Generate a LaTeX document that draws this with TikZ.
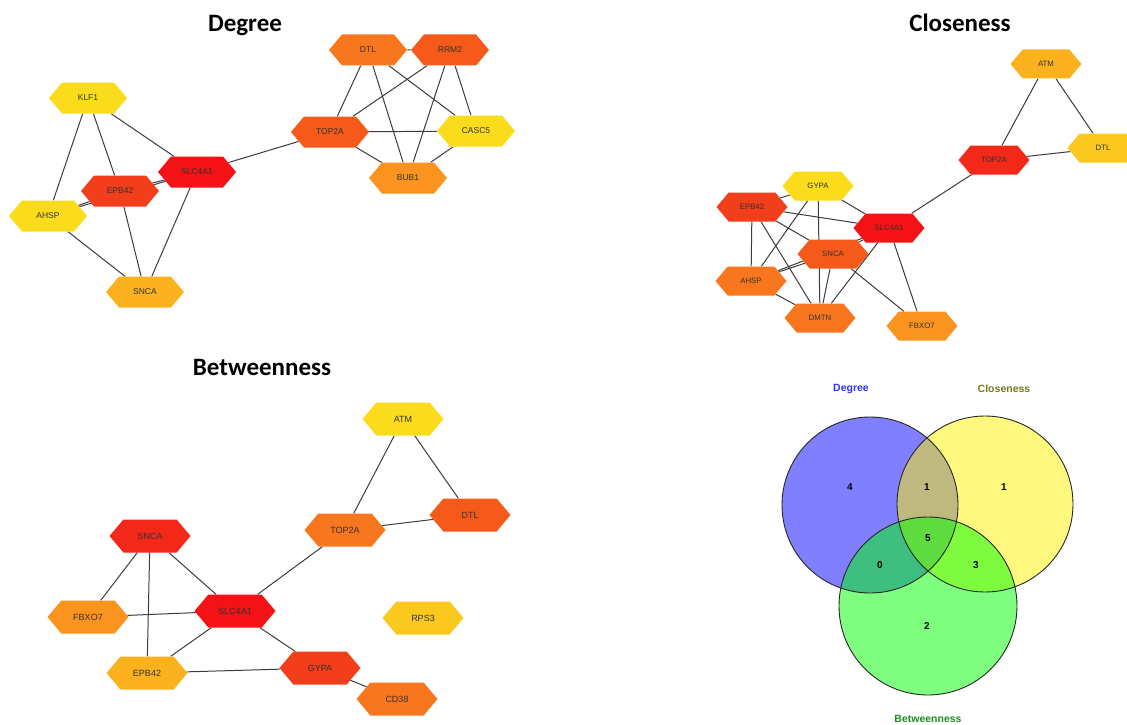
\documentclass[tikz,border=0pt]{standalone}
\usepackage{fontspec}
\setmainfont{Liberation Sans}
\newfontfamily\titlefont{Carlito}
\usetikzlibrary{shapes.symbols,backgrounds}

\definecolor{hexred}{RGB}{245,18,22}
\definecolor{hexscarlet}{RGB}{243,40,24}
\definecolor{hexredor}{RGB}{242,62,26}
\definecolor{hexor}{RGB}{245,90,26}
\definecolor{hexmid}{RGB}{248,118,30}
\definecolor{hexlight}{RGB}{250,148,30}
\definecolor{hexamber}{RGB}{251,178,30}
\definecolor{hexgold}{RGB}{251,200,30}
\definecolor{hexyellow}{RGB}{250,220,28}
\definecolor{linkgray}{RGB}{60,60,60}

\tikzset{
  hex/.style={shape=signal, signal to=east and west, signal pointer angle=100, inner sep=0pt, text=black!80},
  dhex/.style={hex, minimum width=78pt, minimum height=31pt, font=\fontsize{8.5}{9}\selectfont},
  chex/.style={hex, minimum width=71pt, minimum height=29pt, font=\fontsize{7.8}{9}\selectfont},
  bhex/.style={hex, minimum width=81pt, minimum height=33pt, font=\fontsize{9}{10}\selectfont},
  link/.style={-, draw=linkgray, line width=1pt},
  paneltitle/.style={anchor=base, font=\titlefont\bfseries\fontsize{25}{28}\selectfont},
  setlabel/.style={font=\bfseries\fontsize{10.5}{12}\selectfont},
  setcount/.style={font=\bfseries\fontsize{10}{12}\selectfont},
}

\begin{document}
\begin{tikzpicture}[x=1pt, y=-1pt]
\useasboundingbox (0,0) rectangle (1127,725);

% Degree
\node[paneltitle] (tdeg) at (245,32) {Degree};
\node[dhex, fill=hexyellow] (dKLF1) at (88,98) {KLF1};
\node[dhex, fill=hexredor] (dEPB42) at (120,191) {EPB42};
\node[dhex, fill=hexred] (dSLC4A1) at (197,172) {SLC4A1};
\node[dhex, fill=hexyellow] (dAHSP) at (48,216) {AHSP};
\node[dhex, fill=hexamber] (dSNCA) at (145,292) {SNCA};
\node[dhex, fill=hexor] (dTOP2A) at (330,132) {TOP2A};
\node[dhex, fill=hexmid] (dDTL) at (368,50) {DTL};
\node[dhex, fill=hexor] (dRRM2) at (450,50) {RRM2};
\node[dhex, fill=hexyellow] (dCASC5) at (476,131) {CASC5};
\node[dhex, fill=hexlight] (dBUB1) at (408,178) {BUB1};

% Closeness
\node[paneltitle] (tclo) at (960,32) {Closeness};
\node[chex, fill=hexamber] (cATM) at (1046,64) {ATM};
\node[chex, fill=hexgold] (cDTL) at (1103,148) {DTL};
\node[chex, fill=hexscarlet] (cTOP2A) at (994,160) {TOP2A};
\node[chex, fill=hexyellow] (cGYPA) at (818,186) {GYPA};
\node[chex, fill=hexredor] (cEPB42) at (752,207) {EPB42};
\node[chex, fill=hexred] (cSLC4A1) at (889,228) {SLC4A1};
\node[chex, fill=hexor] (cSNCA) at (833,254) {SNCA};
\node[chex, fill=hexmid] (cAHSP) at (751,281) {AHSP};
\node[chex, fill=hexmid] (cDMTN) at (820,318) {DMTN};
\node[chex, fill=hexlight] (cFBXO7) at (922,326) {FBXO7};

% Betweenness
\node[paneltitle] (tbet) at (262,375) {Betweenness};
\node[bhex, fill=hexyellow] (bATM) at (403,419) {ATM};
\node[bhex, fill=hexor] (bDTL) at (470,515) {DTL};
\node[bhex, fill=hexmid] (bTOP2A) at (345,530) {TOP2A};
\node[bhex, fill=hexscarlet] (bSNCA) at (150,536) {SNCA};
\node[bhex, fill=hexred] (bSLC4A1) at (235,611) {SLC4A1};
\node[bhex, fill=hexlight] (bFBXO7) at (88,617) {FBXO7};
\node[bhex, fill=hexgold] (bRPS3) at (423,618) {RPS3};
\node[bhex, fill=hexamber] (bEPB42) at (147,673) {EPB42};
\node[bhex, fill=hexredor] (bGYPA) at (320,668) {GYPA};
\node[bhex, fill=hexmid] (bCD38) at (397,699) {CD38};

\begin{pgfonlayer}{background}
\path[link] (dKLF1) edge (dAHSP);
\path[link] (dKLF1) edge (dEPB42);
\path[link] (dKLF1) edge (dSLC4A1);
\path[link] (dEPB42) edge (dSLC4A1);
\path[link] (dEPB42) edge (dAHSP);
\path[link] (dEPB42) edge (dSNCA);
\path[link] (dSLC4A1) edge (dAHSP);
\path[link] (dAHSP) edge (dSNCA);
\path[link] (dSLC4A1) edge (dSNCA);
\path[link] (dSLC4A1) edge (dTOP2A);
\path[link] (dTOP2A) edge (dDTL);
\path[link] (dTOP2A) edge (dRRM2);
\path[link] (dTOP2A) edge (dCASC5);
\path[link] (dTOP2A) edge (dBUB1);
\path[link] (dDTL) edge (dRRM2);
\path[link] (dDTL) edge (dBUB1);
\path[link] (dDTL) edge (dCASC5);
\path[link] (dRRM2) edge (dBUB1);
\path[link] (dRRM2) edge (dCASC5);
\path[link] (dCASC5) edge (dBUB1);

\path[link] (cATM) edge (cTOP2A);
\path[link] (cATM) edge (cDTL);
\path[link] (cTOP2A) edge (cDTL);
\path[link] (cTOP2A) edge (cSLC4A1);
\path[link] (cEPB42) edge (cGYPA);
\path[link] (cEPB42) edge (cSLC4A1);
\path[link] (cEPB42) edge (cSNCA);
\path[link] (cEPB42) edge (cAHSP);
\path[link] (cEPB42) edge (cDMTN);
\path[link] (cGYPA) edge (cSLC4A1);
\path[link] (cGYPA) edge (cAHSP);
\path[link] (cGYPA) edge (cDMTN);
\path[link] (cSLC4A1) edge (cSNCA);
\path[link] (cSLC4A1) edge (cAHSP);
\path[link] (cSLC4A1) edge (cDMTN);
\path[link] (cSLC4A1) edge (cFBXO7);
\path[link] (cSNCA) edge (cAHSP);
\path[link] (cSNCA) edge (cDMTN);
\path[link] (cSNCA) edge (cFBXO7);
\path[link] (cAHSP) edge (cDMTN);

\path[link] (bATM) edge (bTOP2A);
\path[link] (bATM) edge (bDTL);
\path[link] (bTOP2A) edge (bDTL);
\path[link] (bTOP2A) edge (bSLC4A1);
\path[link] (bSNCA) edge (bSLC4A1);
\path[link] (bSNCA) edge (bFBXO7);
\path[link] (bSNCA) edge (bEPB42);
\path[link] (bFBXO7) edge (bSLC4A1);
\path[link] (bSLC4A1) edge (bEPB42);
\path[link] (bSLC4A1) edge (bGYPA);
\path[link] (bEPB42) edge (bGYPA);
\path[link] (bGYPA) edge (bCD38);
\end{pgfonlayer}

% Venn
\fill[blue, fill opacity=0.5] (870,505) circle (88pt);
\fill[yellow, fill opacity=0.5] (985,504) circle (88pt);
\fill[green, fill opacity=0.5] (928,606) circle (89pt);
\draw[black!85, line width=0.9pt] (870,505) circle (88pt);
\draw[black!85, line width=0.9pt] (985,504) circle (88pt);
\draw[black!85, line width=0.9pt] (928,606) circle (89pt);
\node[setlabel, text={rgb,255:red,50;green,50;blue,235}] (vdeg) at (851,389) {Degree};
\node[setlabel, text={rgb,255:red,120;green,120;blue,30}] (vclo) at (1004,389) {Closeness};
\node[setlabel, text={rgb,255:red,30;green,140;blue,30}] (vbet) at (928,719) {Betweenness};
\node[setcount] (n4) at (850,487) {4};
\node[setcount] (n1a) at (927,487) {1};
\node[setcount] (n1b) at (1004,487) {1};
\node[setcount] (n5) at (928,538) {5};
\node[setcount] (n0) at (880,565) {0};
\node[setcount] (n3) at (976,565) {3};
\node[setcount] (n2) at (927,626) {2};
\end{tikzpicture}
\end{document}
